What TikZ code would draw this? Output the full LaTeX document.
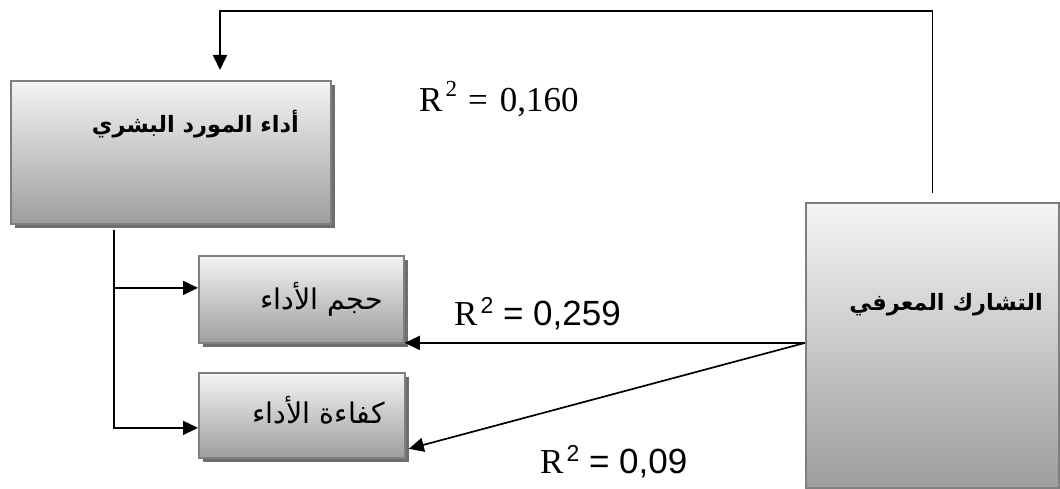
\documentclass[tikz,border=0pt]{standalone}
\usepackage{fontspec}
\usepackage{tikz}
\usetikzlibrary{arrows.meta,shadows}
\setmainfont{Liberation Serif}
\newfontfamily\arabicfont[Script=Arabic]{DejaVu Sans}
\newfontfamily\arialfont{Liberation Sans}
\TeXXeTstate=1
\definecolor{boxborder}{HTML}{7F7F7F}
\definecolor{boxtop}{HTML}{F4F4F4}
\definecolor{boxbottom}{HTML}{9E9E9E}
\definecolor{boxshadow}{HTML}{6E6E6E}
\newcommand{\sqmark}[1]{\hspace{3pt}\raisebox{#1}{\fontsize{23}{23}\selectfont 2}}

\begin{document}
\begin{tikzpicture}[x=1pt,y=-1pt,
    varbox/.style={rectangle,anchor=north west,inner sep=0pt,draw=boxborder,line width=1.8pt,
      top color=boxtop,bottom color=boxbottom},
    shadowed/.style={drop shadow={shadow xshift=4pt,shadow yshift=-4pt,fill=boxshadow,opacity=1}},
    link/.style={line width=1.7pt,-{Triangle[length=15pt,width=14pt]}},
    rlabel/.style={anchor=base west,inner sep=0pt,font=\fontsize{35}{40}\selectfont},
    arlabel/.style={anchor=base east,inner sep=0pt,font=\fontsize{28.5}{32}\selectfont\arabicfont},
    arbold/.style={anchor=base east,inner sep=0pt,font=\fontsize{22.5}{27}\selectfont\arabicfont\bfseries}]
    \useasboundingbox (0,0) rectangle (1060,489);
    \node[varbox,shadowed,minimum width=320pt,minimum height=143pt] (hr) at (10,80) {};
    \node[varbox,shadowed,minimum width=205pt,minimum height=87pt] (perf) at (198,255) {};
    \node[varbox,shadowed,minimum width=206pt,minimum height=85pt] (eff) at (198,372) {};
    \node[varbox,minimum width=253pt,minimum height=285pt] (kn) at (805,202) {};
    \node[arbold] (hrtext) at (299,133) {\beginR أداء المورد البشري\endR};
    \node[arlabel] (perftext) at (383,309) {\beginR حجم الأداء\endR};
    \node[arlabel] (efftext) at (385,423) {\beginR كفاءة الأداء\endR};
    \node[arbold] (kntext) at (1043,310) {\beginR التشارك المعرفي\endR};
    \coordinate (fbcorner) at (220,11);
    \coordinate (fbend) at (220,70);
    \draw[link] ([yshift=9pt]kn.north) |- (fbcorner) -- (fbend);
    \coordinate (trunk) at ([shift={(104pt,-5pt)}]hr.south west);
    \draw[link] (trunk) |- ([yshift=11.5pt]perf.west);
    \draw[link] (trunk) |- ([yshift=-12.5pt]eff.west);
    \coordinate (src) at ([yshift=2.5pt]kn.west);
    \draw[link] (src) -- (src -| perf.east);
    \draw[link] (src) -- ([shift={(3pt,10pt)}]eff.south east);
    \node[rlabel] (r1) at (419,112) {R\sqmark{15pt}\hspace{11pt}=\hspace{12pt}0,160};
    \node[rlabel] (r2) at (454,325) {R{\arialfont\sqmark{12pt} = 0,259}};
    \node[rlabel] (r3) at (540,473) {R{\arialfont\sqmark{12pt} = 0,09}};
  \end{tikzpicture}
\end{document}
